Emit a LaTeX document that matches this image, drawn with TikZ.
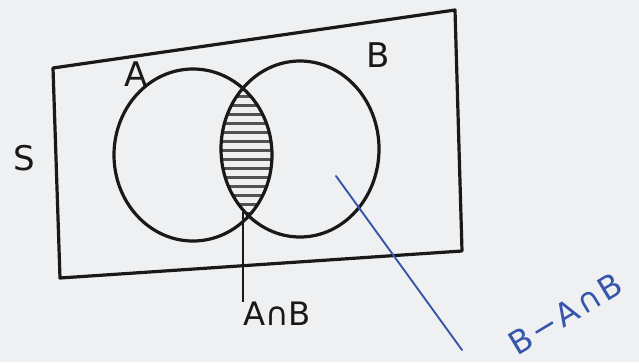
\documentclass[tikz,border=0pt]{standalone}
\usepackage{fontspec}
\newfontfamily\hand{DejaVu Sans}
\definecolor{paper}{RGB}{238,240,242}
\definecolor{penblue}{RGB}{55,85,170}
\definecolor{ink}{RGB}{25,25,25}
\begin{document}
\begin{tikzpicture}[x=1pt,y=-1pt,
  inkline/.style={line width=3.2pt, draw=ink, line join=round, line cap=round},
  hatch/.style={line width=3pt, draw=ink!75, line cap=round},
  pen/.style={line width=1.9pt, draw=penblue, line cap=round},
  lbl/.style={font=\fontsize{34}{38}\selectfont\hand, text=ink, inner sep=0pt},
  bluelbl/.style={font=\fontsize{32}{36}\selectfont\hand, text=penblue, inner sep=0pt}]
\useasboundingbox (0,0) rectangle (639,362);
\fill[paper] (0,0) rectangle (639,362);
% universal set
\coordinate (tl) at (53,68);
\coordinate (tr) at (455,10);
\coordinate (br) at (462,251);
\coordinate (bl) at (60,278);
\draw[inkline] (tl) -- (tr) -- (br) -- (bl) -- cycle;
% hatching of the intersection
\begin{scope}
  \clip (193,155) ellipse [x radius=79, y radius=86];
  \clip (300,149) ellipse [x radius=79, y radius=88];
  \foreach \y in {96,105,...,222} \draw[hatch] (200,\y) -- (290,\y);
\end{scope}
% sets
\draw[inkline] (193,155) ellipse [x radius=79, y radius=86];
\draw[inkline] (300,149) ellipse [x radius=79, y radius=88];
% labels
\node[lbl] (la) at (136,74) {A};
\node[lbl] (lb) at (378,55) {B};
\node[lbl] (ls) at (24,158) {S};
\node[lbl, scale=0.95] (anb) at (277,314) {A∩B};
\node[bluelbl, rotate=31] (bmanb) at (565,314) {B\kern3pt−\kern3pt A\kern2pt∩\kern2pt B};
% leaders
\coordinate (lens) at (243,212);
\draw[line width=2.4pt, draw=ink] (lens) -- (lens |- anb.north);
\coordinate (bonly) at (336,176);
\coordinate (bend) at (462,350);
\draw[pen] (bonly) -- (bend);
\end{tikzpicture}
\end{document}
